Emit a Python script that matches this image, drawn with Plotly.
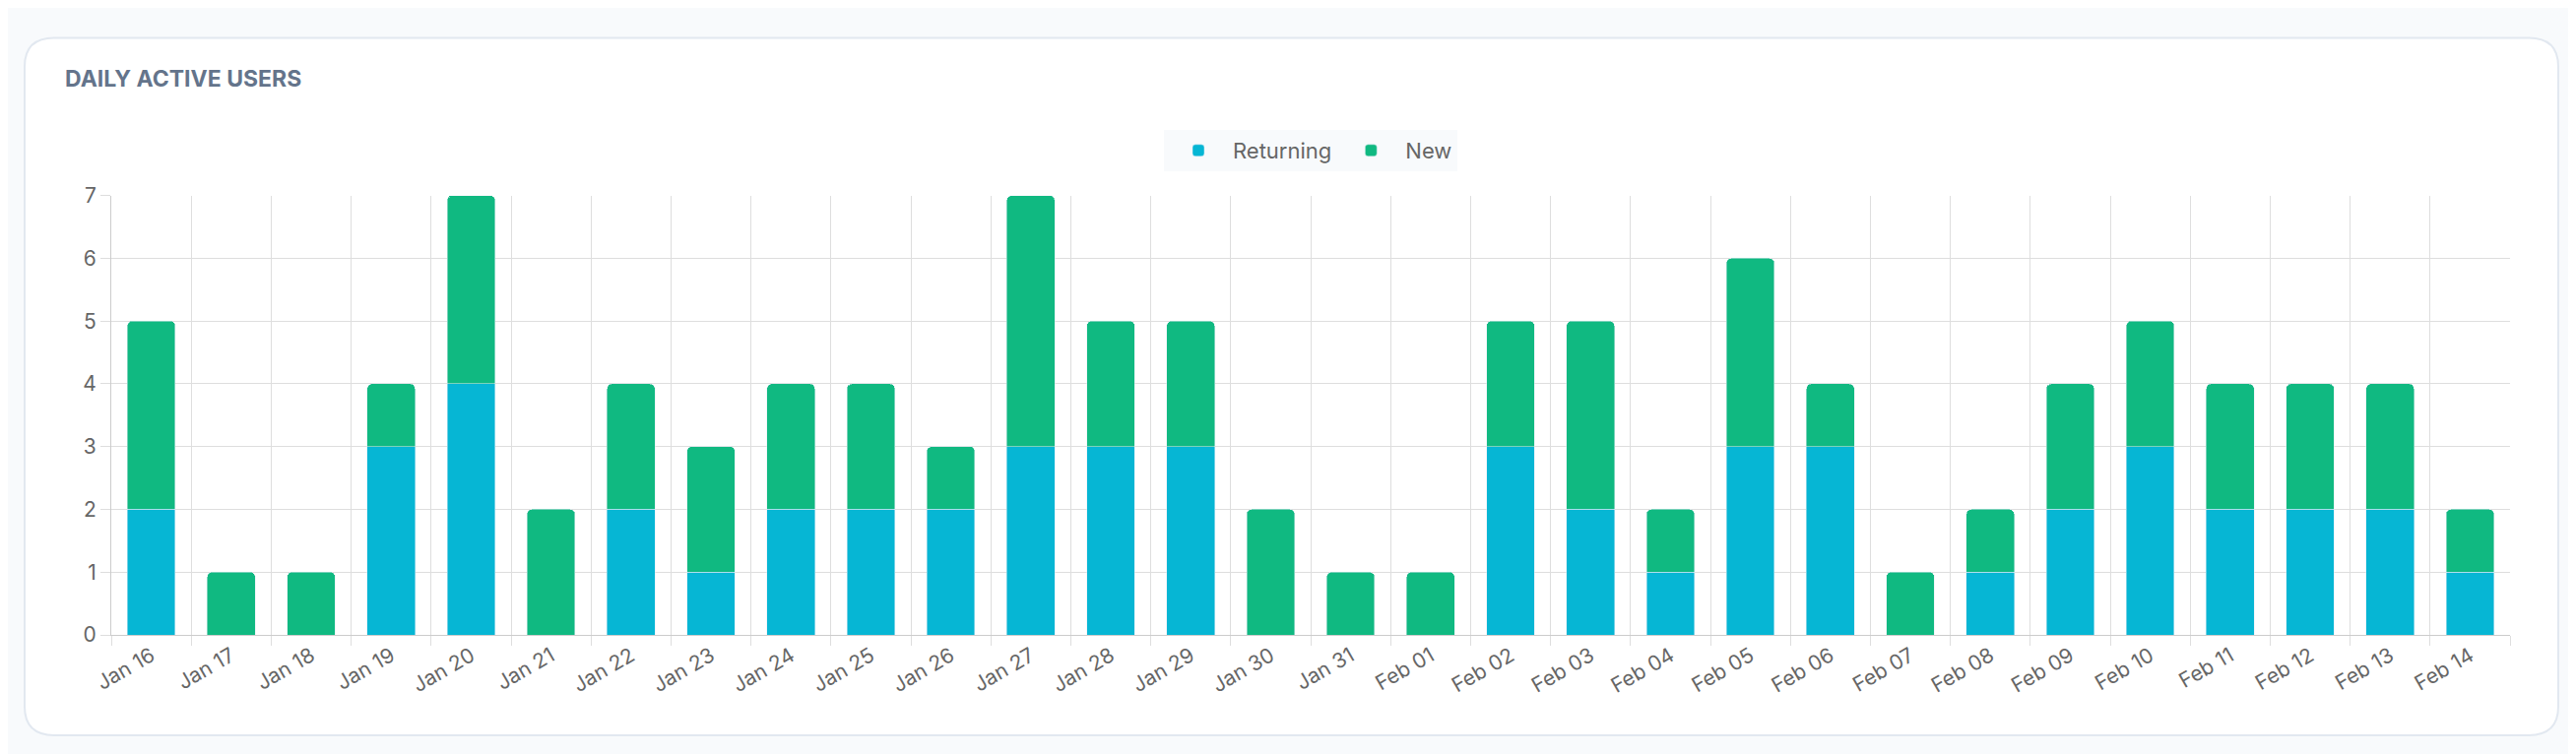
import plotly.graph_objects as go

# daily active users
days = ["Jan 16", "Jan 17", "Jan 18", "Jan 19", "Jan 20", "Jan 21", "Jan 22", "Jan 23",
        "Jan 24", "Jan 25", "Jan 26", "Jan 27", "Jan 28", "Jan 29", "Jan 30", "Jan 31",
        "Feb 01", "Feb 02", "Feb 03", "Feb 04", "Feb 05", "Feb 06", "Feb 07", "Feb 08",
        "Feb 09", "Feb 10", "Feb 11", "Feb 12", "Feb 13", "Feb 14"]
returning = [2, 0, 0, 3, 4, 0, 2, 1, 2, 2, 2, 3, 3, 3, 0, 0, 0, 3, 2, 1, 3, 3, 0, 1, 2, 3, 2, 2, 2, 1]
new = [3, 1, 1, 1, 3, 2, 2, 2, 2, 2, 1, 4, 2, 2, 2, 1, 1, 2, 3, 1, 3, 1, 1, 1, 2, 2, 2, 2, 2, 1]

idx = list(range(len(days)))
W, H = 2616, 766
L, R, T, B = 105, 2541, 177, 637

fig = go.Figure()
fig.add_trace(go.Bar(x=idx, y=returning, name="Returning", marker_color="#06b6d4", width=0.6))
fig.add_trace(go.Bar(x=idx, y=new, name="New", marker_color="#10b981", width=0.6))

# white rounded card behind the chart, pixel -> paper coords
def px(x):
    return (x - L) / (R - L)

def py(y):
    return (B - y) / (B - T)

cx0, cx1, cy0, cy1, rad = 17, 2590, 12, 742, 30
path = (f"M {px(cx0 + rad)},{py(cy0)} L {px(cx1 - rad)},{py(cy0)} "
        f"Q {px(cx1)},{py(cy0)} {px(cx1)},{py(cy0 + rad)} L {px(cx1)},{py(cy1 - rad)} "
        f"Q {px(cx1)},{py(cy1)} {px(cx1 - rad)},{py(cy1)} L {px(cx0 + rad)},{py(cy1)} "
        f"Q {px(cx0)},{py(cy1)} {px(cx0)},{py(cy1 - rad)} L {px(cx0)},{py(cy0 + rad)} "
        f"Q {px(cx0)},{py(cy0)} {px(cx0 + rad)},{py(cy0)} Z")
fig.add_shape(type="path", xref="paper", yref="paper", path=path,
              fillcolor="white", line=dict(color="#e2e8f0", width=2), layer="below")

grid = "#dedede"
fig.update_layout(
    width=W, height=H,
    paper_bgcolor="#f8fafc", plot_bgcolor="white",
    barmode="stack", barcornerradius=5,
    font=dict(family="Inter, Noto Sans, sans-serif", size=21, color="#666666"),
    margin=dict(l=L, r=W - R, t=T, b=H - B),
    title=dict(text="<b>DAILY ACTIVE USERS</b>", x=58 / W, xref="container", xanchor="left",
               y=1 - 72 / H, yref="container", yanchor="middle",
               font=dict(size=23, color="#64748b")),
    legend=dict(orientation="h", x=0.5, xanchor="center", y=1 - 145 / H, yref="container",
                yanchor="middle", traceorder="normal",
                font=dict(size=22, color="#666666"), itemwidth=60),
    xaxis=dict(range=[-0.5, len(days) - 0.5], tickvals=idx, ticktext=days, tickangle=-30,
               showgrid=False, showline=True, linecolor="#cccccc", zeroline=False,
               minor=dict(tickvals=[i - 0.5 for i in range(len(days) + 1)], showgrid=True,
                          gridcolor=grid, ticks="outside", ticklen=10, tickcolor=grid)),
    yaxis=dict(range=[0, 7], dtick=1, gridcolor=grid, showline=True, linecolor="#cccccc",
               zeroline=False, ticks="outside", ticklen=10, tickcolor=grid),
)
fig.write_html("out.html")
